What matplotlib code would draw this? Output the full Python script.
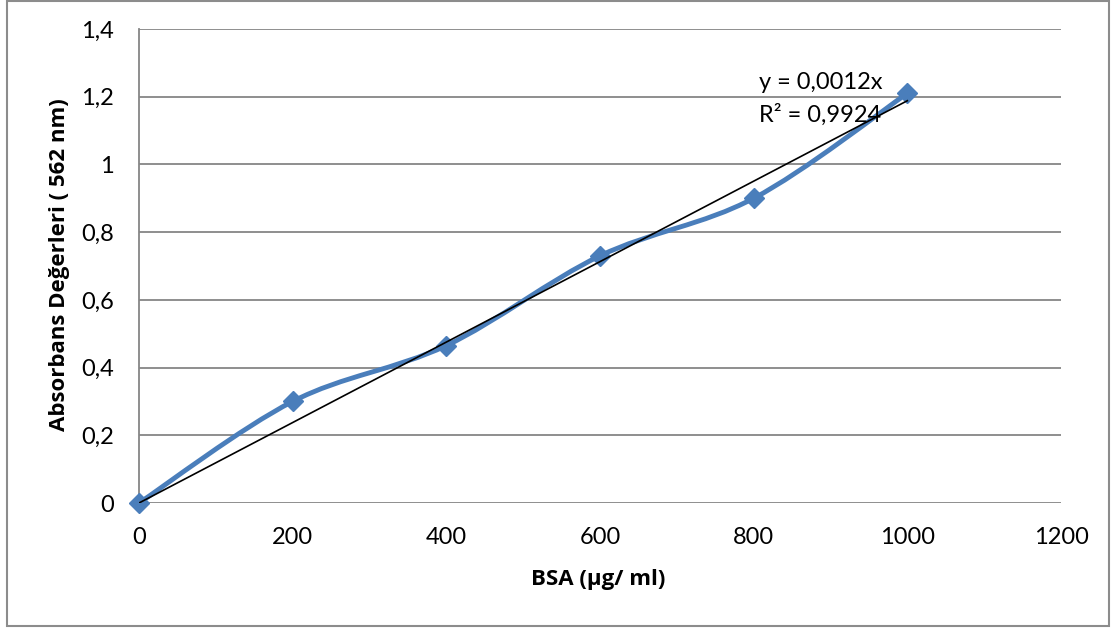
import numpy as np
import matplotlib.pyplot as plt
from matplotlib.path import Path
from matplotlib.patches import PathPatch, Rectangle

# Data
bsa = [0, 200, 400, 600, 800, 1000]
absorbans = [0.0, 0.30, 0.465, 0.73, 0.90, 1.21]
x_ticks = [0, 200, 400, 600, 800, 1000, 1200]
y_ticks = [0, 0.2, 0.4, 0.6, 0.8, 1.0, 1.2, 1.4]

plt.rcParams['font.family'] = ['Lato', 'DejaVu Sans']

fig = plt.figure(figsize=(11.13, 6.30), dpi=100)
ax = fig.add_axes([139 / 1113, 1 - 503 / 630, (1061 - 139) / 1113, (503 - 29) / 630])

# outer chart border
fig.patches.append(Rectangle((7 / 1113, 4 / 630), 1102 / 1113, 625 / 630,
                             transform=fig.transFigure, fill=False,
                             edgecolor='#8c8c8c', linewidth=1.5))

# smoothed line (excel-like bezier)
x = np.array(bsa, dtype=float)
y = np.array(absorbans, dtype=float)
verts = [(x[0], y[0])]
codes = [Path.MOVETO]
n = len(x)
for i in range(n - 1):
    p0 = (x[max(i - 1, 0)], y[max(i - 1, 0)])
    p1 = (x[i], y[i])
    p2 = (x[i + 1], y[i + 1])
    p3 = (x[min(i + 2, n - 1)], y[min(i + 2, n - 1)])
    c1 = (p1[0] + (p2[0] - p0[0]) / 6, p1[1] + (p2[1] - p0[1]) / 6)
    c2 = (p2[0] - (p3[0] - p1[0]) / 6, p2[1] - (p3[1] - p1[1]) / 6)
    verts += [c1, c2, p2]
    codes += [Path.CURVE4] * 3
ax.add_patch(PathPatch(Path(verts, codes), facecolor='none',
                       edgecolor='#4a7ebb', linewidth=3.5, zorder=3))
ax.plot(bsa, absorbans, linestyle='none', marker='D', markersize=10,
        color='#4a7ebb', zorder=4, clip_on=False)

# linear trendline through origin
slope = np.sum(x * y) / np.sum(x * x)
ax.plot([0, 1000], [0, slope * 1000], color='black', linewidth=1.2, zorder=5)

ax.text(807, 1.242, 'y = 0,0012x', fontsize=17, ha='left', va='center')
ax.text(807, 1.147, 'R² = 0,9924', fontsize=17, ha='left', va='center')

ax.set_xlim(0, 1200)
ax.set_ylim(0, 1.4)
ax.set_xticks(x_ticks)
ax.set_yticks(y_ticks)
ax.set_xticklabels([str(v) for v in x_ticks], fontsize=17)
ax.set_yticklabels([('%g' % v).replace('.', ',') for v in y_ticks], fontsize=17)
ax.tick_params(length=0)
ax.tick_params(axis='y', pad=18)
ax.tick_params(axis='x', pad=17)
ax.grid(axis='y', color='#868686', linewidth=1.3)
ax.set_axisbelow(True)
for s in ['top', 'right', 'bottom']:
    ax.spines[s].set_visible(False)
ax.spines['left'].set_color('#868686')
ax.spines['left'].set_linewidth(1.3)

label_font = dict(family=['Open Sans', 'DejaVu Sans'], size=16, weight='bold')
ax.set_xlabel('BSA (µg/ ml)', fontdict=label_font, va='center')
ax.set_ylabel('Absorbans Değerleri ( 562 nm)', fontdict=label_font, va='center')
ax.xaxis.set_label_coords(0.498, -0.162)
ax.yaxis.set_label_coords(-0.0857, 0.502)

fig.savefig('out.png', dpi=100)
